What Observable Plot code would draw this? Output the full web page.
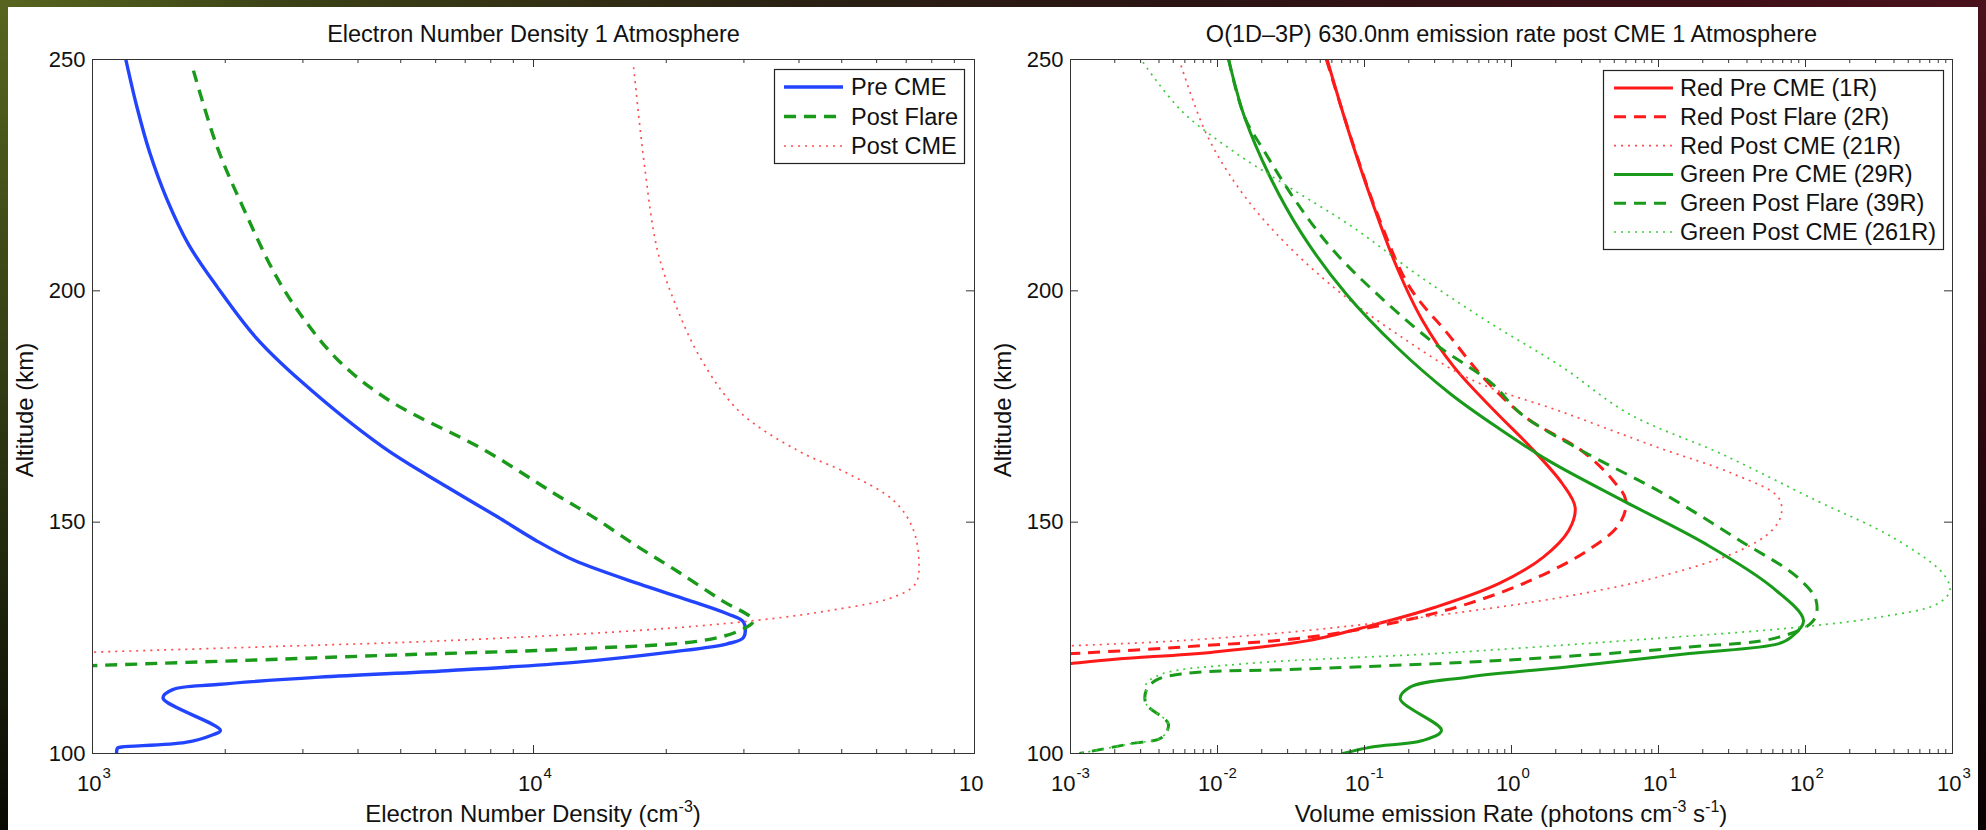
<!DOCTYPE html>
<html>
<head>
<meta charset="utf-8">
<script src="https://cdn.jsdelivr.net/npm/d3@7"></script>
<script src="https://cdn.jsdelivr.net/npm/@observablehq/plot@0.6"></script>
<style>
  html, body { margin: 0; padding: 0; }
  body { width: 1986px; height: 830px; position: relative; overflow: hidden; background: #0a0505;
         font-family: "Liberation Sans", Arial, Helvetica, sans-serif; }
  #bgTop { position:absolute; left:0; top:0; width:1986px; height:830px;
    background: linear-gradient(to right, #56661f 0%, #3b4016 15%, #2a2113 40%, #2b1414 60%, #3d0f17 85%, #4a121c 100%); }
  #bgFade { position:absolute; left:0; top:0; width:1986px; height:830px;
    background: linear-gradient(to bottom, rgba(0,0,0,0) 0%, rgba(0,0,0,0.45) 50%, rgba(0,0,0,0.9) 100%); }
  #paper { position:absolute; left:8px; top:7px; width:1970px; height:823px; background:#fff; }
  .panel { position:absolute; top:0; }
  #overlay { position:absolute; left:0; top:0; }
</style>
</head>
<body>
<div id="bgTop"></div><div id="bgFade"></div><div id="paper"></div>
<div id="leftPanel" class="panel" style="left:0px"></div>
<div id="rightPanel" class="panel" style="left:984px"></div>
<svg id="overlay" width="1986" height="830"></svg>
<script>
// ================= DATA =================
const altTicks = [100, 150, 200, 250];
const leftExps = [3, 4, 5];
const rightExps = [-3, -2, -1, 0, 1, 2, 3];
const minorMults = [2, 3, 4, 5, 6, 7, 8, 9];

const leftTitle = "Electron Number Density 1 Atmosphere";
const rightTitle = "O(1D–3P) 630.0nm emission rate post CME 1 Atmosphere";
const leftNames = ["Pre CME", "Post Flare", "Post CME"];
const rightNames = ["Red Pre CME (1R)", "Red Post Flare (2R)", "Red Post CME (21R)",
                    "Green Pre CME (29R)", "Green Post Flare (39R)", "Green Post CME (261R)"];

// Left panel: electron number density (cm^-3) vs altitude (km)
const nePreAlt = [250, 240, 230, 220, 210, 200.8, 190.0, 180.6, 166.2, 157.6, 151.1, 146.0, 141.7, 136.7, 133.1, 130.2, 128.4, 125.1, 123.7, 121.9, 119.7, 117.9, 116.5, 114.9, 113.8, 112.0, 105.0, 103.9, 102.4, 101.4, 101.2, 100];
const nePreVal = [1190, 1259, 1347, 1472, 1652, 1919, 2342, 2958, 4560, 6370, 8300, 10150, 12400, 17300, 22500, 27500, 29950, 29950, 27500, 20400, 12400, 6370, 3270, 1919, 1520, 1445, 1950, 1857, 1625, 1165, 1140, 1134];

const neFlareAlt = [247.6, 231.0, 218.1, 203.7, 195.0, 184.9, 176.3, 165.5, 156.1, 151.1, 144.6, 139.5, 133.1, 128.7, 126.6, 124.4, 122.6, 121.2, 120.2, 119.0];
const neFlareVal = [1694, 1919, 2193, 2590, 2958, 3614, 4710, 7770, 11190, 13670, 17300, 21100, 26700, 31500, 29400, 24100, 12400, 4560, 2345, 1000];

const neCmeAlt = [248.3, 226.7, 208.7, 196.5, 184.9, 173.8, 165.5, 160.4, 154.7, 148.9, 141.7, 136.7, 133.8, 130.9, 128.7, 126.6, 124.4, 123.0, 121.9];
const neCmeVal = [16870, 17870, 19110, 21100, 24100, 29400, 39700, 51900, 65500, 72300, 74800, 73500, 65500, 46900, 31500, 17300, 6370, 2345, 1000];

// Right panel: volume emission rate (photons cm^-3 s^-1) vs altitude (km)
const redPreAlt = [250, 233.9, 219.5, 205.1, 193.6, 183.5, 173.8, 166.2, 158.3, 153.2, 148.2, 142.4, 136.7, 131.6, 127.7, 124.4, 121.9, 120.4, 119.5, 119.3];
const redPreVal = [0.0557, 0.079, 0.112, 0.166, 0.248, 0.407, 0.78, 1.35, 2.22, 2.71, 2.45, 1.64, 0.818, 0.303, 0.112, 0.0413, 0.0093, 0.00209, 0.00104, 0.0009];

const redFlareAlt = [250, 230, 215, 200.8, 190.7, 180.6, 172.4, 165.5, 159.0, 154.7, 149.6, 143.9, 137.4, 132.3, 128.7, 125.1, 123.0, 121.6, 121.5];
const redFlareVal = [0.055, 0.087, 0.128, 0.203, 0.369, 0.671, 1.28, 2.99, 4.91, 6.0, 5.42, 3.30, 1.35, 0.497, 0.184, 0.041, 0.00565, 0.00104, 0.0009];

const redCmeAlt = [248.7, 233.9, 222.4, 212.3, 200.8, 190.7, 180.6, 173.8, 166.2, 160.4, 155.4, 151.8, 148.2, 143.9, 138.1, 133.8, 129.8, 126.6, 124.4, 123.3, 123.2];
const redCmeVal = [0.00565, 0.0084, 0.0138, 0.0252, 0.0615, 0.166, 0.55, 2.22, 9.8, 32.5, 65.2, 68.5, 59, 35.9, 9.8, 2.22, 0.303, 0.041, 0.00565, 0.00104, 0.0009];

const greenPreAlt = [250, 237.5, 224.6, 212.3, 199.3, 187.8, 177.7, 170, 163.3, 154.7, 145.3, 136.0, 128.7, 125.1, 123.7, 121.6, 118.6, 116.5, 114.3, 111.8, 105.0, 102.8, 101.4, 100];
const greenPreVal = [0.0119, 0.0153, 0.0228, 0.0375, 0.0751, 0.166, 0.385, 0.842, 1.785, 5.69, 20.9, 59, 97, 79.6, 65, 16.2, 2.22, 0.50, 0.203, 0.175, 0.334, 0.248, 0.112, 0.0715];

const greenFlareAlt = [250, 237.5, 230.4, 219.5, 208.7, 197.9, 188.5, 179.9, 173.4, 165.5, 156.1, 146.0, 138.1, 133.1, 128.7, 125.1, 123.0, 120.1, 118.3, 117.2, 115.8, 113.6, 110.7, 106.4, 103.5, 102.1, 100];
const greenFlareVal = [0.0119, 0.0153, 0.0206, 0.0339, 0.0615, 0.136, 0.303, 0.741, 1.16, 2.99, 10.9, 35.9, 88, 118, 113, 65, 16.2, 0.818, 0.041, 0.00565, 0.0038, 0.00327, 0.00327, 0.00463, 0.00419, 0.00255, 0.00115];

const greenCmeAlt = [249.4, 239.0, 230.4, 222.4, 213.8, 203.7, 193.6, 183.5, 173.4, 164.8, 154.7, 146.7, 138.8, 135.2, 132.3, 129.5, 127.4, 124.4, 121.6, 119.4, 117.2, 115.0, 113.6, 110.7, 106.4, 103.5, 102.1, 100];
const greenCmeVal = [0.00311, 0.00565, 0.0125, 0.0307, 0.083, 0.224, 0.671, 2.22, 6.3, 26.6, 118, 392, 867, 959, 786, 321, 97, 6.0, 0.303, 0.0153, 0.00419, 0.00327, 0.00327, 0.00327, 0.00463, 0.00419, 0.00255, 0.00115];

// ================= STYLES =================
const BLUE = "#2244ff", GREEN = "#1a9a1a", RED = "#ff1a1a", LRED = "#ff4d4d", LGREEN = "#3ccc3c";
const leftStyles = [
  {stroke: BLUE, width: 3.4, dash: null},
  {stroke: GREEN, width: 3.4, dash: "12,8"},
  {stroke: LRED, width: 1.7, dash: "2,5"}
];
const rightStyles = [
  {stroke: RED, width: 3, dash: null},
  {stroke: RED, width: 3, dash: "12,8"},
  {stroke: LRED, width: 1.7, dash: "2,5"},
  {stroke: GREEN, width: 3, dash: null},
  {stroke: GREEN, width: 3, dash: "12,8"},
  {stroke: LGREEN, width: 1.7, dash: "2,5"}
];

const zip = (alt, val) => alt.map((a, i) => ({alt: a, val: val[i]}));
const leftSeries = [zip(nePreAlt, nePreVal), zip(neFlareAlt, neFlareVal), zip(neCmeAlt, neCmeVal)];
const rightSeries = [zip(redPreAlt, redPreVal), zip(redFlareAlt, redFlareVal), zip(redCmeAlt, redCmeVal),
                     zip(greenPreAlt, greenPreVal), zip(greenFlareAlt, greenFlareVal), zip(greenCmeAlt, greenCmeVal)];

const H = 830, MT = 59, MB = 77;
const AX = "#333";
const FONT = "Liberation Sans, Arial, Helvetica, sans-serif";

function buildPanel({width, marginLeft, marginRight, domain, exps, series, styles, title}) {
  const minors = [];
  for (let i = 0; i < exps.length - 1; i++) for (const m of minorMults) minors.push(m * 10 ** exps[i]);
  const majors = exps.map(e => 10 ** e);
  const frameW = width - marginLeft - marginRight;
  const frameH = H - MT - MB;
  const marks = [];
  series.forEach((s, i) => {
    const st = styles[i];
    marks.push(Plot.line(s, {x: "val", y: "alt", stroke: st.stroke, strokeWidth: st.width,
      strokeDasharray: st.dash, clip: true, curve: "catmull-rom", strokeLinejoin: "round",
      strokeLinecap: st.dash ? "butt" : "round"}));
  });
  marks.push(Plot.frame({stroke: AX, strokeWidth: 1}));
  marks.push(Plot.tickX(majors, {x: d => d, insetTop: frameH - 8, stroke: AX}));
  marks.push(Plot.tickX(majors, {x: d => d, insetBottom: frameH - 8, stroke: AX}));
  marks.push(Plot.tickX(minors, {x: d => d, insetTop: frameH - 4, stroke: AX}));
  marks.push(Plot.tickX(minors, {x: d => d, insetBottom: frameH - 4, stroke: AX}));
  marks.push(Plot.tickY(altTicks, {y: d => d, insetRight: frameW - 8, stroke: AX}));
  marks.push(Plot.tickY(altTicks, {y: d => d, insetLeft: frameW - 8, stroke: AX}));
  // y tick labels
  marks.push(Plot.text(altTicks, {y: d => d, text: d => String(d), frameAnchor: "left",
    textAnchor: "end", dx: -7, fontSize: 22, fill: "#111"}));
  // x tick labels "10" + exponent
  const pos = exps.filter(e => e >= 0), neg = exps.filter(e => e < 0);
  for (const [group, off] of [[pos, 9], [neg, 5]]) {
    if (!group.length) continue;
    marks.push(Plot.text(group, {x: e => 10 ** e, text: () => "10", frameAnchor: "bottom",
      lineAnchor: "bottom", dy: 37, dx: off, textAnchor: "end", fontSize: 22, fill: "#111"}));
    marks.push(Plot.text(group, {x: e => 10 ** e, text: e => (e < 0 ? "-" : "") + Math.abs(e),
      frameAnchor: "bottom", lineAnchor: "bottom", dy: 24, dx: off + 1, textAnchor: "start",
      fontSize: 15, fill: "#111"}));
  }
  // title
  marks.push(Plot.text([title], {text: d => d, frameAnchor: "top", lineAnchor: "bottom",
    dy: -18, fontSize: 23.5, fill: "#111"}));
  return Plot.plot({
    width, height: H, marginLeft, marginRight, marginTop: MT, marginBottom: MB,
    style: {background: "transparent", overflow: "hidden", fontFamily: FONT, color: "#111"},
    x: {type: "log", domain, axis: null},
    y: {domain: [100, 250], axis: null},
    marks
  });
}

document.getElementById("leftPanel").appendChild(buildPanel({
  width: 984, marginLeft: 92, marginRight: 10, domain: [1e3, 1e5], exps: leftExps,
  series: leftSeries, styles: leftStyles, title: leftTitle}));
document.getElementById("rightPanel").appendChild(buildPanel({
  width: 1002, marginLeft: 86, marginRight: 34, domain: [1e-3, 1e3], exps: rightExps,
  series: rightSeries, styles: rightStyles, title: rightTitle}));

// ================= LABELS & LEGENDS (overlay) =================
const ov = d3.select("#overlay").style("font-family", FONT);

function labelWithSup(x, y, parts) {
  const t = ov.append("text").attr("x", x).attr("y", y).attr("text-anchor", "middle")
    .attr("font-size", 24).attr("fill", "#111");
  let raised = false;
  for (const [str, sup] of parts) {
    const ts = t.append("tspan").text(str);
    if (sup && !raised) { ts.attr("font-size", 16).attr("dy", -10); raised = true; }
    else if (!sup && raised) { ts.attr("font-size", 24).attr("dy", 10); raised = false; }
    else if (sup) ts.attr("font-size", 16);
  }
}
labelWithSup(533, 822, [["Electron Number Density (cm", false], ["-3", true], [")", false]]);
labelWithSup(1511, 822, [["Volume emission Rate (photons cm", false], ["-3", true], [" s", false], ["-1", true], [")", false]]);

for (const cx of [33, 1011]) {
  ov.append("text").attr("transform", `translate(${cx},410) rotate(-90)`).attr("text-anchor", "middle")
    .attr("font-size", 24).attr("fill", "#111").text("Altitude (km)");
}

function legend(x, y, w, h, firstRow, step, lineX1, lineX2, textX, names, styles) {
  ov.append("rect").attr("x", x + 0.5).attr("y", y + 0.5).attr("width", w).attr("height", h)
    .attr("fill", "#fff").attr("stroke", "#222").attr("stroke-width", 1.2);
  names.forEach((n, i) => {
    const cy = firstRow + i * step;
    const st = styles[i];
    ov.append("line").attr("x1", lineX1).attr("x2", lineX2).attr("y1", cy).attr("y2", cy)
      .attr("stroke", st.stroke).attr("stroke-width", st.width)
      .attr("stroke-dasharray", st.dash);
    ov.append("text").attr("x", textX).attr("y", cy + 8).attr("font-size", 23.5)
      .attr("fill", "#111").text(n);
  });
}
legend(774, 69, 190, 94, 87, 29.5, 784, 843, 851, leftNames, leftStyles);
legend(1603, 70, 340, 179, 88, 28.8, 1614, 1673, 1680, rightNames, rightStyles);
</script>
</body>
</html>
